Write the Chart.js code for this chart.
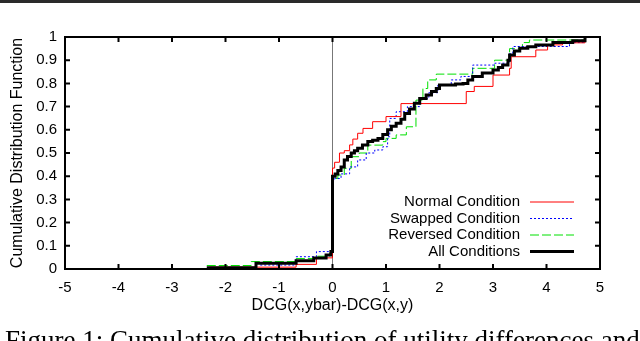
<!DOCTYPE html>
<html>
<head>
<meta charset="utf-8">
<script src="https://cdn.jsdelivr.net/npm/chart.js@4.4.1/dist/chart.umd.min.js"></script>
<style>
  html, body { margin: 0; padding: 0; background: #fff; }
  #wrap { position: relative; width: 640px; height: 341px; overflow: hidden; }
  #topRule { position: absolute; left: 0; top: 0; width: 640px; height: 3px; background: #2a2a2a; }
  #caption {
    position: absolute; left: 5px; top: 325px; white-space: nowrap;
    font-family: "Liberation Serif", "DejaVu Serif", serif; font-size: 27px; color: #000;
  }
  canvas { position: absolute; left: 0; top: 0; }
</style>
</head>
<body>
<div id="wrap">
  <canvas id="cdfChart" width="640" height="341"></canvas>
  <div id="topRule"></div>
  <div id="caption">Figure 1: Cumulative distribution of utility differences and</div>
</div>
<script>
// =====================
// DATA (step points of each CDF)
// =====================
const normalX = [-2.3, -0.68, -0.3, 0, 0.04, 0.13, 0.22, 0.32, 0.38, 0.47, 0.57, 0.75, 1.0, 1.28, 2.5, 2.65, 3.0, 3.31, 3.34, 3.8, 4.02, 4.3, 4.72];
const normalY = [0.008, 0.02, 0.048, 0.435, 0.46, 0.5, 0.51, 0.535, 0.56, 0.585, 0.606, 0.635, 0.657, 0.713, 0.765, 0.787, 0.836, 0.865, 0.915, 0.944, 0.966, 0.975, 1];

const swappedX = [-1.35, -0.68, -0.3, 0, 0.04, 0.16, 0.32, 0.47, 0.63, 0.79, 0.94, 1.03, 1.07, 1.19, 1.4, 1.63, 1.8, 1.97, 2.22, 2.4, 2.62, 3.03, 3.31, 3.37, 4.43, 4.72];
const swappedY = [0.017, 0.053, 0.075, 0.38, 0.39, 0.41, 0.44, 0.47, 0.5, 0.513, 0.527, 0.57, 0.649, 0.678, 0.7, 0.735, 0.76, 0.793, 0.815, 0.83, 0.879, 0.887, 0.929, 0.959, 0.976, 1];

const reversedX = [-2.35, -1.52, -0.68, -0.3, -0.05, 0, 0.1, 0.22, 0.35, 0.5, 0.66, 0.94, 1.0, 1.19, 1.38, 1.56, 1.69, 1.78, 1.94, 2.62, 3.03, 3.31, 3.55, 3.68, 4.72];
const reversedY = [0.015, 0.032, 0.045, 0.055, 0.07, 0.39, 0.405, 0.434, 0.484, 0.5, 0.534, 0.549, 0.563, 0.578, 0.613, 0.728, 0.778, 0.815, 0.84, 0.865, 0.9, 0.95, 0.976, 0.987, 1];

const allX = [-2.35, -1.43, -0.68, -0.35, -0.12, -0.03, 0, 0.05, 0.1, 0.16, 0.22, 0.28, 0.35, 0.41, 0.47, 0.56, 0.66, 0.75, 0.85, 0.94, 1.03, 1.1, 1.19, 1.28, 1.35, 1.44, 1.53, 1.63, 1.75, 1.85, 1.94, 2.0, 2.3, 2.44, 2.53, 2.62, 2.8, 3.0, 3.1, 3.18, 3.28, 3.31, 3.4, 3.5, 3.65, 3.8, 4.12, 4.49, 4.72];
const allY = [0.005, 0.025, 0.036, 0.047, 0.06, 0.075, 0.40, 0.41, 0.425, 0.44, 0.47, 0.485, 0.50, 0.51, 0.52, 0.535, 0.55, 0.555, 0.563, 0.58, 0.60, 0.615, 0.628, 0.645, 0.67, 0.69, 0.714, 0.735, 0.75, 0.765, 0.778, 0.793, 0.797, 0.80, 0.815, 0.83, 0.845, 0.858, 0.868, 0.879, 0.9, 0.922, 0.94, 0.951, 0.958, 0.966, 0.976, 0.984, 1];

const seriesLabels = ["Normal Condition", "Swapped Condition", "Reversed Condition", "All Conditions"];

const FONT = "'Liberation Sans', Arial, Helvetica, sans-serif";

function toPoints(xs, ys) {
    return xs.map((x, i) => ({ x: x, y: ys[i] }));
}

// =====================
// FRAME, INSIDE TICKS, LEGEND
// =====================
const gnuplotLook = {
    id: "gnuplotLook",
    afterDatasetsDraw(chart) {
        const { ctx, chartArea: a, scales } = chart;
        ctx.save();
        ctx.strokeStyle = "#000";
        ctx.lineWidth = 2;
        ctx.strokeRect(a.left, a.top, a.right - a.left, a.bottom - a.top);

        ctx.beginPath();
        scales.x.ticks.forEach(t => {
            const px = scales.x.getPixelForValue(t.value);
            ctx.moveTo(px, a.bottom); ctx.lineTo(px, a.bottom - 5);
            ctx.moveTo(px, a.top); ctx.lineTo(px, a.top + 5);
        });
        scales.y.ticks.forEach(t => {
            const py = scales.y.getPixelForValue(t.value);
            ctx.moveTo(a.left, py); ctx.lineTo(a.left + 5, py);
            ctx.moveTo(a.right, py); ctx.lineTo(a.right - 5, py);
        });
        ctx.stroke();

        // legend, bottom right inside the frame
        ctx.font = "15px " + FONT;
        ctx.textAlign = "right";
        ctx.textBaseline = "middle";
        ctx.fillStyle = "#000";
        chart.data.datasets.forEach((ds, i) => {
            const yy = a.bottom - 67 + i * 16.5;
            ctx.fillText(ds.label, a.left + 455, yy);
            ctx.strokeStyle = ds.borderColor;
            ctx.lineWidth = ds.borderWidth;
            ctx.setLineDash(ds.borderDash || []);
            ctx.beginPath();
            ctx.moveTo(a.left + 465, yy);
            ctx.lineTo(a.left + 509, yy);
            ctx.stroke();
        });
        ctx.restore();
    }
};

// =====================
// CHART
// =====================
new Chart(document.getElementById("cdfChart"), {
    type: "line",
    data: {
        datasets: [
            { label: seriesLabels[0], data: toPoints(normalX, normalY), borderColor: "#ff0000", borderWidth: 1, order: 1 },
            { label: seriesLabels[1], data: toPoints(swappedX, swappedY), borderColor: "#0000ff", borderWidth: 1, borderDash: [2, 2], order: 2 },
            { label: seriesLabels[2], data: toPoints(reversedX, reversedY), borderColor: "#00e000", borderWidth: 1, borderDash: [9, 3], order: 3 },
            { label: seriesLabels[3], data: toPoints(allX, allY), borderColor: "#000000", borderWidth: 3, order: 0 }
        ]
    },
    options: {
        responsive: false,
        animation: false,
        devicePixelRatio: 1,
        elements: {
            point: { radius: 0 },
            line: { stepped: true, fill: false, tension: 0 }
        },
        layout: { padding: { left: 0, top: 37, right: 40, bottom: 0 } },
        plugins: { legend: { display: false }, tooltip: { enabled: false } },
        scales: {
            x: {
                type: "linear",
                min: -5, max: 5,
                afterFit: s => { s.height = 72; },
                ticks: { stepSize: 1, color: "#000", font: { family: FONT, size: 15 }, padding: 10, maxRotation: 0 },
                grid: {
                    drawTicks: false,
                    lineWidth: 1,
                    color: c => (c.tick && c.tick.value === 0 ? "#777" : "rgba(0,0,0,0)")
                },
                border: { display: false },
                title: {
                    display: true, text: "DCG(x,ybar)-DCG(x,y)", color: "#000",
                    font: { family: FONT, size: 16 }, padding: { top: 0, bottom: 26 }
                }
            },
            y: {
                min: 0, max: 1,
                afterFit: s => { s.width = 65; },
                ticks: {
                    stepSize: 0.1, color: "#000", font: { family: FONT, size: 15 }, padding: 8,
                    callback: v => Number(v.toFixed(1)).toString()
                },
                grid: { display: false, drawTicks: false },
                border: { display: false },
                title: {
                    display: true, text: "Cumulative Distribution Function", color: "#000",
                    font: { family: FONT, size: 16 }, padding: { top: 8, bottom: 0 }
                }
            }
        }
    },
    plugins: [gnuplotLook]
});
</script>
</body>
</html>
